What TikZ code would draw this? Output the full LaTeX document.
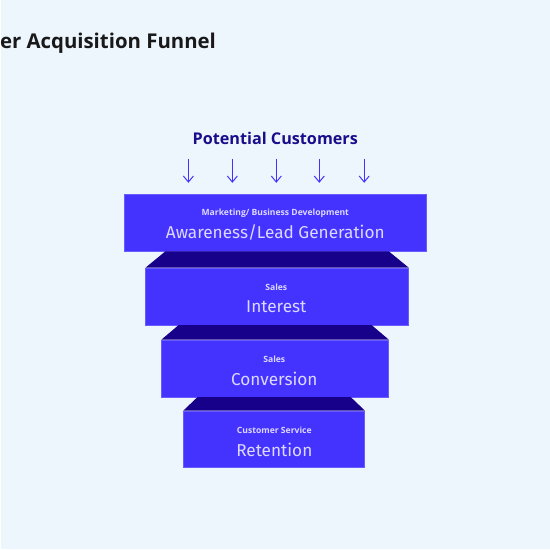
\documentclass[tikz,border=0pt]{standalone}
\usepackage{fontspec}
\setmainfont{Fira Sans}
\newfontfamily\headfont{Open Sans}
\usepackage{tikz}
\usetikzlibrary{arrows.meta,calc,positioning}
\definecolor{paleblue}{HTML}{EEF6FD}
\definecolor{funnelblue}{HTML}{4433FF}
\definecolor{rimnavy}{HTML}{17008A}
\definecolor{inktext}{HTML}{DCD8FF}
\definecolor{headnavy}{HTML}{1B0C8C}

\begin{document}
\begin{tikzpicture}[x=0.5pt,y=-0.5pt,
    stage/.style={fill=funnelblue,draw=funnelblue!80!white,line width=0.3pt,anchor=north west,minimum height=28.5pt,inner sep=0pt},
    tag/.style={text=inktext,font=\headfont\fontsize{4.3}{5}\selectfont\bfseries},
    phase/.style={text=inktext,font=\fontsize{8.6}{10}\selectfont},
    rim/.style={fill=rimnavy},
    drop/.style={-{Straight Barb[length=3pt,width=5pt]},funnelblue,line width=0.5pt}]
    \fill[paleblue] (0,0) rectangle (550,550);
    \node[anchor=base west,text=black!90,font=\headfont\fontsize{10.2}{12}\selectfont\bfseries,inner sep=0pt] (title) at (-1,49) {er Acquisition Funnel};
    \node[text=headnavy,font=\headfont\fontsize{8.1}{9}\selectfont\bfseries] (head) at (275,139) {Potential Customers};
    % funnel stages
    \node[stage,minimum width=151pt] (aware) at (124,194) {};
    \node[stage,minimum width=131.5pt] (interest) at (145,268) {};
    \node[stage,minimum width=113.5pt] (convert) at (161,340) {};
    \node[stage,minimum width=90.5pt] (retain) at (183,411) {};
    \fill[rim] ([xshift=10pt]interest.north west |- aware.south) -- ([xshift=-10pt]interest.north east |- aware.south)
      -- (interest.north east) -- (interest.north west) -- cycle;
    \fill[rim] ([xshift=8.5pt]convert.north west |- interest.south) -- ([xshift=-8.5pt]convert.north east |- interest.south)
      -- (convert.north east) -- (convert.north west) -- cycle;
    \fill[rim] ([xshift=7pt]retain.north west |- convert.south) -- ([xshift=-7pt]retain.north east |- convert.south)
      -- (retain.north east) -- (retain.north west) -- cycle;
    \node[tag] (aware-t) at (275,214) {Marketing/ Business Development};
    \node[phase] (aware-p) at (275,233) {Awareness/Lead Generation};
    \node[tag] (interest-t) at (276,288) {Sales};
    \node[phase] (interest-p) at (276,307) {Interest};
    \node[tag] (convert-t) at (274,360) {Sales};
    \node[phase] (convert-p) at (274,379) {Conversion};
    \node[tag] (retain-t) at (274,431) {Customer Service};
    \node[phase] (retain-p) at (274,450) {Retention};
    % incoming arrows
    \foreach \x [count=\i] in {188,232,276,319,364} {
      \coordinate (src\i) at (\x,159);
      \coordinate (dst\i) at (\x,183);
      \draw[drop] (src\i) -- (dst\i);
    }
  \end{tikzpicture}
\end{document}
